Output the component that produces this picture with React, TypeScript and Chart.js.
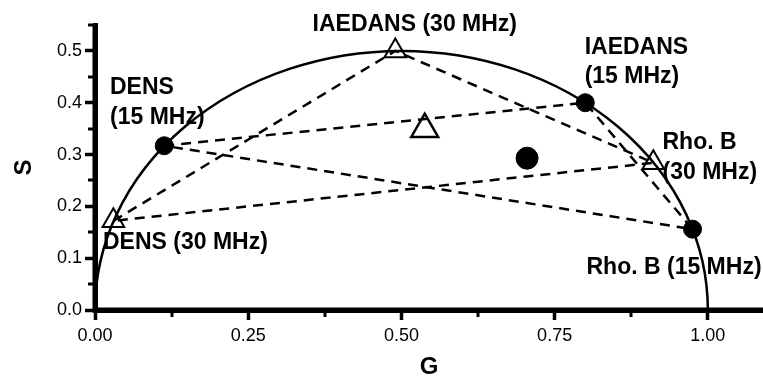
import React, { useEffect, useRef } from "react";
import { Chart, registerables } from "chart.js";

Chart.register(...registerables);

// ---- data (phasor coordinates G, S) ----
const CIRCLE_15MHZ_G = [0.113, 0.8, 0.975]; // DENS, IAEDANS, Rho. B at 15 MHz
const CIRCLE_15MHZ_S = [0.317, 0.4, 0.156];
const TRIANGLE_30MHZ_G = [0.03, 0.49, 0.911]; // DENS, IAEDANS, Rho. B at 30 MHz
const TRIANGLE_30MHZ_S = [0.172, 0.5, 0.284];
const MIX_15MHZ_G = [0.705];
const MIX_15MHZ_S = [0.293];
const MIX_30MHZ_G = [0.538];
const MIX_30MHZ_S = [0.349];

const X_TICKS = [0, 0.25, 0.5, 0.75, 1.0];
const X_MINOR = [0.125, 0.375, 0.625, 0.875];
const Y_TICKS = [0, 0.1, 0.2, 0.3, 0.4, 0.5];
const Y_MINOR = [0.05, 0.15, 0.25, 0.35, 0.45, 0.55];

// universal semicircle
const CIRCLE_CENTER_G = 0.5;
const CIRCLE_RADIUS = 0.5;

// text labels anchored in data units (left edge, vertical middle)
const LABEL_TEXTS = ["DENS", "(15 MHz)", "DENS (30 MHz)", "IAEDANS (30 MHz)", "IAEDANS", "(15 MHz)", "Rho. B", "(30 MHz)", "Rho. B (15 MHz)"];
const LABEL_G = [0.0245, 0.0245, 0.013, 0.355, 0.799, 0.799, 0.926, 0.926, 0.802];
const LABEL_S = [0.4286, 0.371, 0.129, 0.55, 0.506, 0.45, 0.322, 0.266, 0.081];

const FONT = "'Liberation Sans', Arial, Helvetica, sans-serif";

const pts = (g: number[], s: number[]) => g.map((v, i) => ({ x: v, y: s[i] }));
const closed = (g: number[], s: number[]) => {
  const p = pts(g, s);
  return [...p, p[0]];
};

const decorPlugin = {
  id: "decor",
  beforeDatasetsDraw(chart: any) {
    const { ctx, scales } = chart;
    const x = scales.x;
    const y = scales.y;
    const cx = x.getPixelForValue(CIRCLE_CENTER_G);
    const cy = y.getPixelForValue(0);
    const rx = x.getPixelForValue(CIRCLE_CENTER_G + CIRCLE_RADIUS) - cx;
    const ry = cy - y.getPixelForValue(CIRCLE_RADIUS);
    ctx.save();
    ctx.beginPath();
    ctx.ellipse(cx, cy, rx, ry, 0, Math.PI, 2 * Math.PI);
    ctx.strokeStyle = "#000";
    ctx.lineWidth = 2.5;
    ctx.stroke();
    ctx.restore();
  },
  afterDraw(chart: any) {
    const { ctx, scales, chartArea } = chart;
    const x = scales.x;
    const y = scales.y;
    ctx.save();
    ctx.strokeStyle = "#000";
    // heavy axis lines
    ctx.lineWidth = 5;
    ctx.beginPath();
    ctx.moveTo(chartArea.left, chartArea.top);
    ctx.lineTo(chartArea.left, chartArea.bottom + 2.5);
    ctx.moveTo(chartArea.left - 2.5, chartArea.bottom);
    ctx.lineTo(chartArea.right, chartArea.bottom);
    ctx.stroke();
    // minor ticks
    ctx.lineWidth = 3;
    X_MINOR.forEach((v) => {
      const px = Math.round(x.getPixelForValue(v));
      ctx.beginPath();
      ctx.moveTo(px, chartArea.bottom);
      ctx.lineTo(px, chartArea.bottom + 7);
      ctx.stroke();
    });
    Y_MINOR.forEach((v) => {
      const py = Math.round(y.getPixelForValue(v));
      ctx.beginPath();
      ctx.moveTo(chartArea.left, py);
      ctx.lineTo(chartArea.left - 7, py);
      ctx.stroke();
    });
    ctx.fillStyle = "#000";
    ctx.font = `bold 23px ${FONT}`;
    ctx.textAlign = "left";
    ctx.textBaseline = "middle";
    LABEL_TEXTS.forEach((t, i) => {
      ctx.fillText(t, x.getPixelForValue(LABEL_G[i]), y.getPixelForValue(LABEL_S[i]));
    });
    ctx.restore();
  },
};

export default function App() {
  const ref = useRef<HTMLCanvasElement | null>(null);
  useEffect(() => {
    document.body.style.margin = "0";
    const canvas = ref.current;
    if (!canvas) return;
    const dashed = {
      type: "scatter" as const,
      showLine: true,
      borderColor: "#000",
      borderWidth: 2.5,
      borderDash: [10, 7],
      pointRadius: 0,
      fill: false,
    };
    const chart = new Chart(canvas, {
      type: "scatter",
      data: {
        datasets: [
          {
            label: "15 MHz",
            data: pts(CIRCLE_15MHZ_G, CIRCLE_15MHZ_S),
            pointStyle: "circle",
            pointRadius: 9,
            backgroundColor: "#000",
            borderColor: "#000",
            borderWidth: 1,
          },
          {
            label: "mix 15 MHz",
            data: pts(MIX_15MHZ_G, MIX_15MHZ_S),
            pointStyle: "circle",
            pointRadius: 11,
            backgroundColor: "#000",
            borderColor: "#000",
            borderWidth: 1,
          },
          {
            label: "30 MHz",
            data: pts(TRIANGLE_30MHZ_G, TRIANGLE_30MHZ_S),
            pointStyle: "triangle",
            pointRadius: 12.5,
            backgroundColor: "rgba(255,255,255,0)",
            borderColor: "#000",
            borderWidth: 2,
          },
          {
            label: "mix 30 MHz",
            data: pts(MIX_30MHZ_G, MIX_30MHZ_S),
            pointStyle: "triangle",
            pointRadius: 15.5,
            backgroundColor: "rgba(255,255,255,0)",
            borderColor: "#000",
            borderWidth: 2.5,
          },
          { ...dashed, label: "15 MHz lines", data: closed(CIRCLE_15MHZ_G, CIRCLE_15MHZ_S) },
          { ...dashed, label: "30 MHz lines", data: closed(TRIANGLE_30MHZ_G, TRIANGLE_30MHZ_S) },
        ],
      },
      options: {
        responsive: false,
        animation: false,
        clip: false,
        layout: { autoPadding: false, padding: { top: 25, left: 0, right: 0, bottom: 0 } },
        plugins: { legend: { display: false }, tooltip: { enabled: false } },
        scales: {
          x: {
            type: "linear",
            min: 0,
            max: 1.09,
            afterBuildTicks: (s: any) => {
              s.ticks = X_TICKS.map((v) => ({ value: v }));
            },
            afterFit: (s: any) => {
              s.height = 72;
              s.paddingLeft = 0;
              s.paddingRight = 0;
            },
            ticks: {
              callback: (v: any) => Number(v).toFixed(2),
              font: { size: 18, family: FONT },
              color: "#000",
              padding: 5,
              maxRotation: 0,
              autoSkip: false,
            },
            grid: { drawOnChartArea: false, drawTicks: true, tickLength: 10, tickWidth: 3.5, tickColor: "#000" },
            border: { display: true, width: 5, color: "#000" },
            title: { display: true, text: "G", color: "#000", font: { size: 24, weight: "bold", family: FONT }, padding: { top: 0, bottom: 0 } },
          },
          y: {
            type: "linear",
            min: 0,
            max: 0.55,
            afterBuildTicks: (s: any) => {
              s.ticks = Y_TICKS.map((v) => ({ value: v }));
            },
            afterFit: (s: any) => {
              s.width = 95;
              s.paddingTop = 0;
              s.paddingBottom = 0;
            },
            ticks: {
              callback: (v: any) => Number(v).toFixed(1),
              font: { size: 18, family: FONT },
              color: "#000",
              padding: 3,
              autoSkip: false,
            },
            grid: { drawOnChartArea: false, drawTicks: true, tickLength: 10, tickWidth: 3.5, tickColor: "#000" },
            border: { display: true, width: 5, color: "#000" },
            title: { display: true, text: "S", color: "#000", font: { size: 24, weight: "bold", family: FONT }, padding: { top: 10, bottom: 0 } },
          },
        },
      },
      plugins: [decorPlugin],
    } as any);
    return () => chart.destroy();
  }, []);
  return <canvas ref={ref} width={763} height={382} style={{ display: "block" }} />;
}
